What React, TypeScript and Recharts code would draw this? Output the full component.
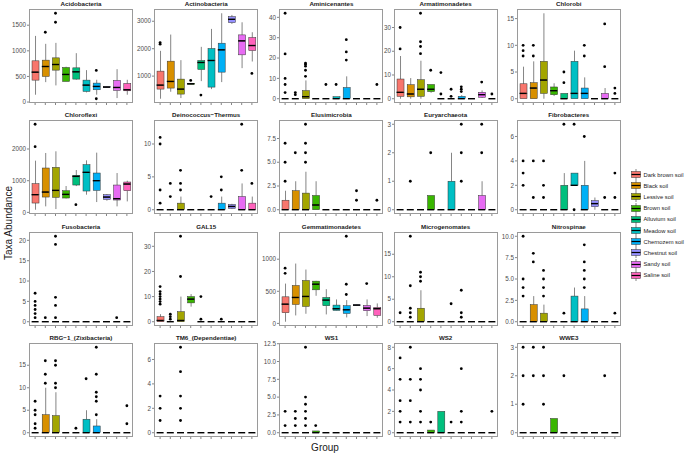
import React from 'react';
import { ComposedChart, Bar, Scatter, XAxis, YAxis } from 'recharts';

// soil groups, in the order they sit on every x axis
const groups = ['Dark brown soil', 'Black soil', 'Lessive soil', 'Brown soil', 'Alluvium soil', 'Meadow soil', 'Chernozem soil', 'Chestnut soil', 'Sandy soil', 'Saline soil'];
const colors = ['#F8766D', '#D89000', '#A3A500', '#39B600', '#00BF7D', '#00BFC4', '#00B0F6', '#9590FF', '#E76BF3', '#FF62BC'];

// box stats per group: [lower whisker, q1, median, q3, upper whisker]
const Z = [0, 0, 0, 0, 0];

const acidobacteriaBox = [[143, 428, 584, 805, 1291], [389, 500, 694, 818, 1136], [325, 623, 733, 863, 1155], [400, 402, 539, 675, 690], [435, 448, 590, 668, 954], [188, 208, 331, 428, 623], [143, 240, 305, 370, 435], [280, 285, 292, 300, 305], [78, 227, 285, 422, 642], [143, 220, 240, 363, 435]];
const acidobacteriaOut = [[], [1363], [1558, 1733], [], [], [], [617, 65], [], [], []];
const acidobacteriaTicks = [0, 500, 1000, 1500];

const actinobacteriaBox = [[176, 527, 673, 1182, 1921], [430, 564, 806, 1545, 2515], [200, 345, 527, 891, 1582], [690, 700, 721, 740, 750], [818, 1242, 1497, 1570, 2067], [527, 600, 1570, 2006, 2721], [782, 1145, 1958, 2200, 3291], [2903, 2951, 3072, 3169, 3230], [1291, 1776, 2285, 2503, 2963], [1533, 1933, 2115, 2406, 2600]];
const actinobacteriaOut = [[2163, 2224], [], [], [842], [309], [], [], [], [], [1097]];
const actinobacteriaTicks = [1000, 2000, 3000];

const aminicenantesBox = [Z, Z, [0, 0, 1, 4, 9], Z, Z, [0, 0, 0, 1, 1], [0, 0, 0, 5.5, 11], Z, Z, Z];
const aminicenantesOut = [[42, 22, 10, 7, 3], [3, 2], [11, 14, 16, 17, 17.5], [], [7], [7], [19, 23, 29], [], [], [7]];
const aminicenantesTicks = [0, 10, 20, 30, 40];

const armatimonadetesBox = [[0, 1, 2.7, 8.3, 18], [0, 0.8, 2, 5.9, 8.7], [0, 1, 4, 8, 16], [2.5, 3, 4, 6, 6], Z, Z, [0, 0, 0, 1, 1.5], Z, [0.3, 0.6, 1.7, 2.7, 3.5], Z];
const armatimonadetesOut = [[21, 30], [], [19, 22, 24, 36], [12], [2, 11], [1, 4], [3, 4, 5], [], [7], [2]];
const armatimonadetesTicks = [0, 10, 20, 30];

const chlorobiBox = [[0, 0, 1, 2.8, 6], [0, 0, 2, 3, 7], [0, 1, 3.5, 7, 16], [0.5, 0.75, 1.5, 2.2, 2.9], [0, 0, 0, 1, 1], [0, 0, 1, 7, 9], [0, 0, 1, 2, 4], Z, [0, 0, 0, 1, 2], Z];
const chlorobiOut = [[8, 9, 10], [8, 10], [], [], [3, 5], [], [8, 10], [], [6, 14], [1, 2]];
const chlorobiTicks = [0, 5, 10, 15];

const chloroflexiBox = [[84, 295, 558, 905, 1632], [190, 484, 642, 1400, 1874], [105, 474, 695, 1421, 1927], [440, 453, 569, 684, 832], [830, 863, 1137, 1169, 1337], [558, 674, 1264, 1506, 1642], [326, 695, 1000, 1242, 1885], [370, 410, 484, 558, 580], [190, 390, 432, 863, 1242], [347, 684, 895, 958, 1000]];
const chloroflexiOut = [[2074, 2780], [], [], [], [242], [], [], [], [], []];
const chloroflexiTicks = [0, 1000, 2000];

const deinococcusBox = [Z, Z, [0, 0, 0, 1, 2], Z, Z, Z, [0, 0, 0, 1, 2], [0.1, 0.2, 0.5, 0.8, 0.9], [0, 0, 0, 2, 4], [0, 0, 0, 1, 2]];
const deinococcusOut = [[1, 3, 10, 11], [2, 4], [3, 4, 6], [], [], [2], [3, 5], [], [6, 13], [4]];
const deinococcusTicks = [0, 5, 10];

const elusimicrobiaBox = [[0, 0, 0, 1, 2], [0, 0, 0, 2, 3], [0, 0, 0, 1.75, 4], [0, 0, 0.5, 1.5, 3], Z, Z, Z, Z, Z, Z];
const elusimicrobiaOut = [[3, 5, 7], [6], [5, 6, 7, 9], [], [], [], [], [1, 2], [], [1]];
const elusimicrobiaTicks = [0, 2.5, 5, 7.5];

const euryarchaeotaBox = [Z, Z, Z, [0, 0, 0, 0.5, 0.5], Z, [0, 0, 0, 1, 2], Z, Z, [0, 0, 0, 0.5, 1], Z];
const euryarchaeotaOut = [[], [1], [], [2], [], [], [1, 2, 3], [], [2, 3], []];
const euryarchaeotaTicks = [0, 1, 2, 3];

const fibrobacteresBox = [Z, Z, Z, Z, [0, 0, 0, 2, 3], [2, 2, 2, 3, 3], [0, 0, 0, 2, 4], [0, 0.25, 0.5, 0.75, 1], Z, Z];
const fibrobacteresOut = [[2, 3, 4], [1, 4], [1, 2, 4], [], [7], [0, 7], [6], [], [1], [1, 3]];
const fibrobacteresTicks = [0, 2, 4, 6];

const fusobacteriaBox = [Z, Z, Z, Z, Z, Z, Z, Z, Z, Z];
const fusobacteriaOut = [[1, 2, 3, 4, 5, 7], [1], [1, 4, 6, 19, 21], [], [], [], [], [], [1], []];
const fusobacteriaTicks = [0, 5, 10, 15, 20];

const gal15Box = [[0, 0, 0.5, 2, 3], Z, [0, 0, 0.5, 4, 10], [6, 7.5, 9, 10, 11], Z, Z, Z, Z, Z, Z];
const gal15Out = [[7, 8, 9, 10, 11, 12, 14], [1, 2, 3], [18, 34], [], [1, 10], [], [1], [], [], []];
const gal15Ticks = [0, 10, 20, 30];

const gemmatimonadetesBox = [[26, 166, 300, 414, 620], [124, 295, 404, 590, 932], [150, 264, 420, 668, 839], [430, 523, 611, 658, 663], [140, 275, 363, 404, 533], [197, 202, 228, 285, 373], [93, 155, 212, 275, 363], [275, 280, 285, 290, 295], [114, 197, 238, 280, 373], [88, 124, 228, 249, 311]];
const gemmatimonadetesOut = [[780, 860], [], [], [], [], [], [450, 610, 1357], [], [620], []];
const gemmatimonadetesTicks = [0, 500, 1000];

const microgenomatesBox = [Z, Z, [0, 0, 0, 3, 7], Z, Z, Z, Z, Z, Z, Z];
const microgenomatesOut = [[2], [1, 2, 3, 8, 19], [9, 10, 11], [], [], [4], [1, 2, 7], [], [], []];
const microgenomatesTicks = [0, 5, 10, 15];

const nitrospinaeBox = [Z, [0, 0, 0, 2, 3], [0, 0, 0, 1, 2], Z, Z, [0, 0, 0, 3, 4], [0, 0, 0, 1.5, 3], Z, Z, Z];
const nitrospinaeOut = [[3, 4, 5, 10], [7, 8], [3, 4, 5, 6], [], [1], [], [4, 5, 6, 7, 9], [], [], [1]];
const nitrospinaeTicks = [0, 2.5, 5, 7.5, 10];

const rbg1Box = [Z, [0, 0, 0, 4, 10], [0, 0, 0, 3.8, 9], Z, Z, [0, 0, 0, 3, 5], [0, 0, 0, 1.5, 3], Z, Z, Z];
const rbg1Out = [[1, 2, 4, 5, 7], [11, 13, 16], [10, 11, 15, 16], [], [1], [12], [4, 7, 8, 9, 13, 19], [], [], [2, 6]];
const rbg1Ticks = [0, 5, 10, 15];

const tm6Box = [Z, Z, Z, Z, Z, Z, Z, Z, Z, Z];
const tm6Out = [[1, 2, 3], [], [1, 2, 3, 5, 7], [], [], [], [], [], [], []];
const tm6Ticks = [0, 2, 4, 6];

const ws1Box = [Z, Z, Z, [0, 0, 0, 0.25, 0.25], Z, Z, Z, Z, Z, Z];
const ws1Out = [[1, 3], [1, 2, 3], [1, 2, 3, 4, 5, 12], [1], [], [], [], [], [], []];
const ws1Ticks = [0, 2.5, 5, 7.5, 10, 12.5];

const ws2Box = [Z, Z, Z, [0, 0, 0, 0.25, 0.25], [0, 0, 0, 2, 2], Z, Z, Z, Z, Z];
const ws2Out = [[1, 2, 3, 5, 7], [1, 3, 5, 8], [1, 2, 4, 5, 6], [1], [], [1], [1, 2, 6], [], [], [2]];
const ws2Ticks = [0, 2, 4, 6, 8];

const wwe3Box = [Z, Z, Z, [0, 0, 0, 0.5, 0.5], Z, Z, Z, Z, Z, Z];
const wwe3Out = [[1, 2, 3], [2, 3], [1, 2, 3], [], [2], [], [], [], [2], []];
const wwe3Ticks = [0, 1, 2, 3];

const panels = [
  { title: 'Acidobacteria', box: acidobacteriaBox, out: acidobacteriaOut, ticks: acidobacteriaTicks },
  { title: 'Actinobacteria', box: actinobacteriaBox, out: actinobacteriaOut, ticks: actinobacteriaTicks },
  { title: 'Aminicenantes', box: aminicenantesBox, out: aminicenantesOut, ticks: aminicenantesTicks },
  { title: 'Armatimonadetes', box: armatimonadetesBox, out: armatimonadetesOut, ticks: armatimonadetesTicks },
  { title: 'Chlorobi', box: chlorobiBox, out: chlorobiOut, ticks: chlorobiTicks },
  { title: 'Chloroflexi', box: chloroflexiBox, out: chloroflexiOut, ticks: chloroflexiTicks },
  { title: 'Deinococcus\u2212Thermus', box: deinococcusBox, out: deinococcusOut, ticks: deinococcusTicks },
  { title: 'Elusimicrobia', box: elusimicrobiaBox, out: elusimicrobiaOut, ticks: elusimicrobiaTicks },
  { title: 'Euryarchaeota', box: euryarchaeotaBox, out: euryarchaeotaOut, ticks: euryarchaeotaTicks },
  { title: 'Fibrobacteres', box: fibrobacteresBox, out: fibrobacteresOut, ticks: fibrobacteresTicks },
  { title: 'Fusobacteria', box: fusobacteriaBox, out: fusobacteriaOut, ticks: fusobacteriaTicks },
  { title: 'GAL15', box: gal15Box, out: gal15Out, ticks: gal15Ticks },
  { title: 'Gemmatimonadetes', box: gemmatimonadetesBox, out: gemmatimonadetesOut, ticks: gemmatimonadetesTicks },
  { title: 'Microgenomates', box: microgenomatesBox, out: microgenomatesOut, ticks: microgenomatesTicks },
  { title: 'Nitrospinae', box: nitrospinaeBox, out: nitrospinaeOut, ticks: nitrospinaeTicks },
  { title: 'RBG\u22121_(Zixibacteria)', box: rbg1Box, out: rbg1Out, ticks: rbg1Ticks },
  { title: 'TM6_(Dependentiae)', box: tm6Box, out: tm6Out, ticks: tm6Ticks },
  { title: 'WS1', box: ws1Box, out: ws1Out, ticks: ws1Ticks },
  { title: 'WS2', box: ws2Box, out: ws2Out, ticks: ws2Ticks },
  { title: 'WWE3', box: wwe3Box, out: wwe3Out, ticks: wwe3Ticks },
];

const W = 104;
const H = 94;
const AXIS_W = 26;
const PAD_T = 5; // room above the plot so a top tick label is not clipped
const BOX_W = 7;
const colLeft = [29, 154.2, 279.4, 393.6, 516.8];
const rowTop = [9, 120.3, 231.6, 342.9];
const FONT = '"Liberation Sans", Arial, sans-serif';
const xTicks = groups.map((_, i) => i + 1);

const Empty = () => <g />;
const Whisker = (p: any) => (
  <line x1={p.x + p.width / 2} x2={p.x + p.width / 2} y1={p.y} y2={p.y + p.height} stroke="#333" strokeWidth={0.6} />
);
const BoxPart = (p: any) => (
  <rect x={p.x} y={p.y} width={p.width} height={Math.max(0, p.height)} fill={p.payload.color} stroke="#333" strokeWidth={0.5} />
);
const Median = (p: any) => (
  <line x1={p.cx - BOX_W / 2} x2={p.cx + BOX_W / 2} y1={p.cy} y2={p.cy} stroke="#000" strokeWidth={1.4} />
);
const Dot = (p: any) => <circle cx={p.cx} cy={p.cy} r={1.4} fill="#000" />;

function Panel({ title, box, out, ticks, left, top }: any) {
  const rows = box.map((b: number[], i: number) => ({
    x: i + 1,
    base: b[0],
    lw: b[1] - b[0],
    lb: b[2] - b[1],
    ub: b[3] - b[2],
    uw: b[4] - b[3],
    med: b[2],
    color: colors[i],
  }));
  const pts = out.flatMap((vs: number[], i: number) => vs.map((v) => ({ x: i + 1, y: v })));
  const all = [...box.flat(), ...out.flat()];
  const lo = Math.min(...all);
  const hi = Math.max(...all);
  const pad = (hi - lo) * 0.05;
  const dec = ticks.some((t: number) => !Number.isInteger(t));
  const fmt = (v: number) => (dec ? v.toFixed(1) : String(v));

  return (
    <>
      <div
        style={{
          position: 'absolute', left, top: top - 9, width: W, height: 8, textAlign: 'center',
          fontFamily: FONT, fontWeight: 'bold', fontSize: 6.2, lineHeight: '8px', color: '#1a1a1a', whiteSpace: 'nowrap',
        }}
      >
        {title}
      </div>
      <div style={{ position: 'absolute', left, top, width: W, height: H, border: '1px solid #9a9a9a', boxSizing: 'border-box', background: '#fff' }} />
      <div style={{ position: 'absolute', left: left - AXIS_W, top: top - PAD_T }}>
        <ComposedChart width={AXIS_W + W} height={H + 4 + PAD_T} data={rows} margin={{ top: PAD_T, right: 0, bottom: 0, left: 0 }}>
          <XAxis
            dataKey="x" type="number" domain={[0.4, 10.6]} ticks={xTicks} interval={0} allowDataOverflow
            height={4} tickSize={2} axisLine={false} tickLine={{ stroke: '#333', strokeWidth: 0.6 }} tickFormatter={() => ''}
          />
          <YAxis
            type="number" domain={[lo - pad, hi + pad]} ticks={ticks} interval={0} allowDataOverflow
            width={AXIS_W} tickSize={2} tickMargin={1} axisLine={false} tickLine={{ stroke: '#333', strokeWidth: 0.6 }}
            tick={{ fontSize: 6.3, fill: '#4d4d4d', fontFamily: FONT }} tickFormatter={fmt}
          />
          <Bar dataKey="base" stackId="s" barSize={BOX_W} shape={Empty} isAnimationActive={false} />
          <Bar dataKey="lw" stackId="s" barSize={BOX_W} shape={Whisker} isAnimationActive={false} />
          <Bar dataKey="lb" stackId="s" barSize={BOX_W} shape={BoxPart} isAnimationActive={false} />
          <Bar dataKey="ub" stackId="s" barSize={BOX_W} shape={BoxPart} isAnimationActive={false} />
          <Bar dataKey="uw" stackId="s" barSize={BOX_W} shape={Whisker} isAnimationActive={false} />
          <Scatter dataKey="med" shape={Median} isAnimationActive={false} />
          <Scatter data={pts} dataKey="y" shape={Dot} isAnimationActive={false} />
        </ComposedChart>
      </div>
    </>
  );
}

const LegendKey = ({ color }: { color: string }) => (
  <svg width={12} height={11} style={{ display: 'block', flex: 'none' }}>
    <line x1={6} x2={6} y1={0} y2={11} stroke="#333" strokeWidth={0.6} />
    <rect x={1.5} y={2.5} width={9} height={6} fill={color} stroke="#333" strokeWidth={0.5} />
    <line x1={1.5} x2={10.5} y1={5.5} y2={5.5} stroke="#000" strokeWidth={1.2} />
  </svg>
);

export default function App() {
  return (
    <div style={{ position: 'absolute', left: 0, top: 0, width: 685, height: 453, background: '#fff' }}>
      {panels.map((p, k) => (
        <Panel key={p.title} {...p} left={colLeft[k % 5]} top={rowTop[Math.floor(k / 5)]} />
      ))}
      <div
        style={{
          position: 'absolute', left: 8, top: 223, transform: 'translate(-50%, -50%) rotate(-90deg)',
          fontFamily: FONT, fontSize: 10, color: '#1a1a1a', whiteSpace: 'nowrap',
        }}
      >
        Taxa Abundance
      </div>
      <div
        style={{
          position: 'absolute', left: 325, top: 447, transform: 'translate(-50%, -50%)',
          fontFamily: FONT, fontSize: 10, color: '#1a1a1a', whiteSpace: 'nowrap',
        }}
      >
        Group
      </div>
      <div style={{ position: 'absolute', left: 630, top: 169, width: 55 }}>
        {groups.map((g, i) => (
          <div key={g} style={{ display: 'flex', alignItems: 'center', height: 11.2 }}>
            <LegendKey color={colors[i]} />
            <span style={{ marginLeft: 1.5, fontFamily: FONT, fontSize: 5.8, color: '#1a1a1a', whiteSpace: 'nowrap' }}>{g}</span>
          </div>
        ))}
      </div>
    </div>
  );
}
